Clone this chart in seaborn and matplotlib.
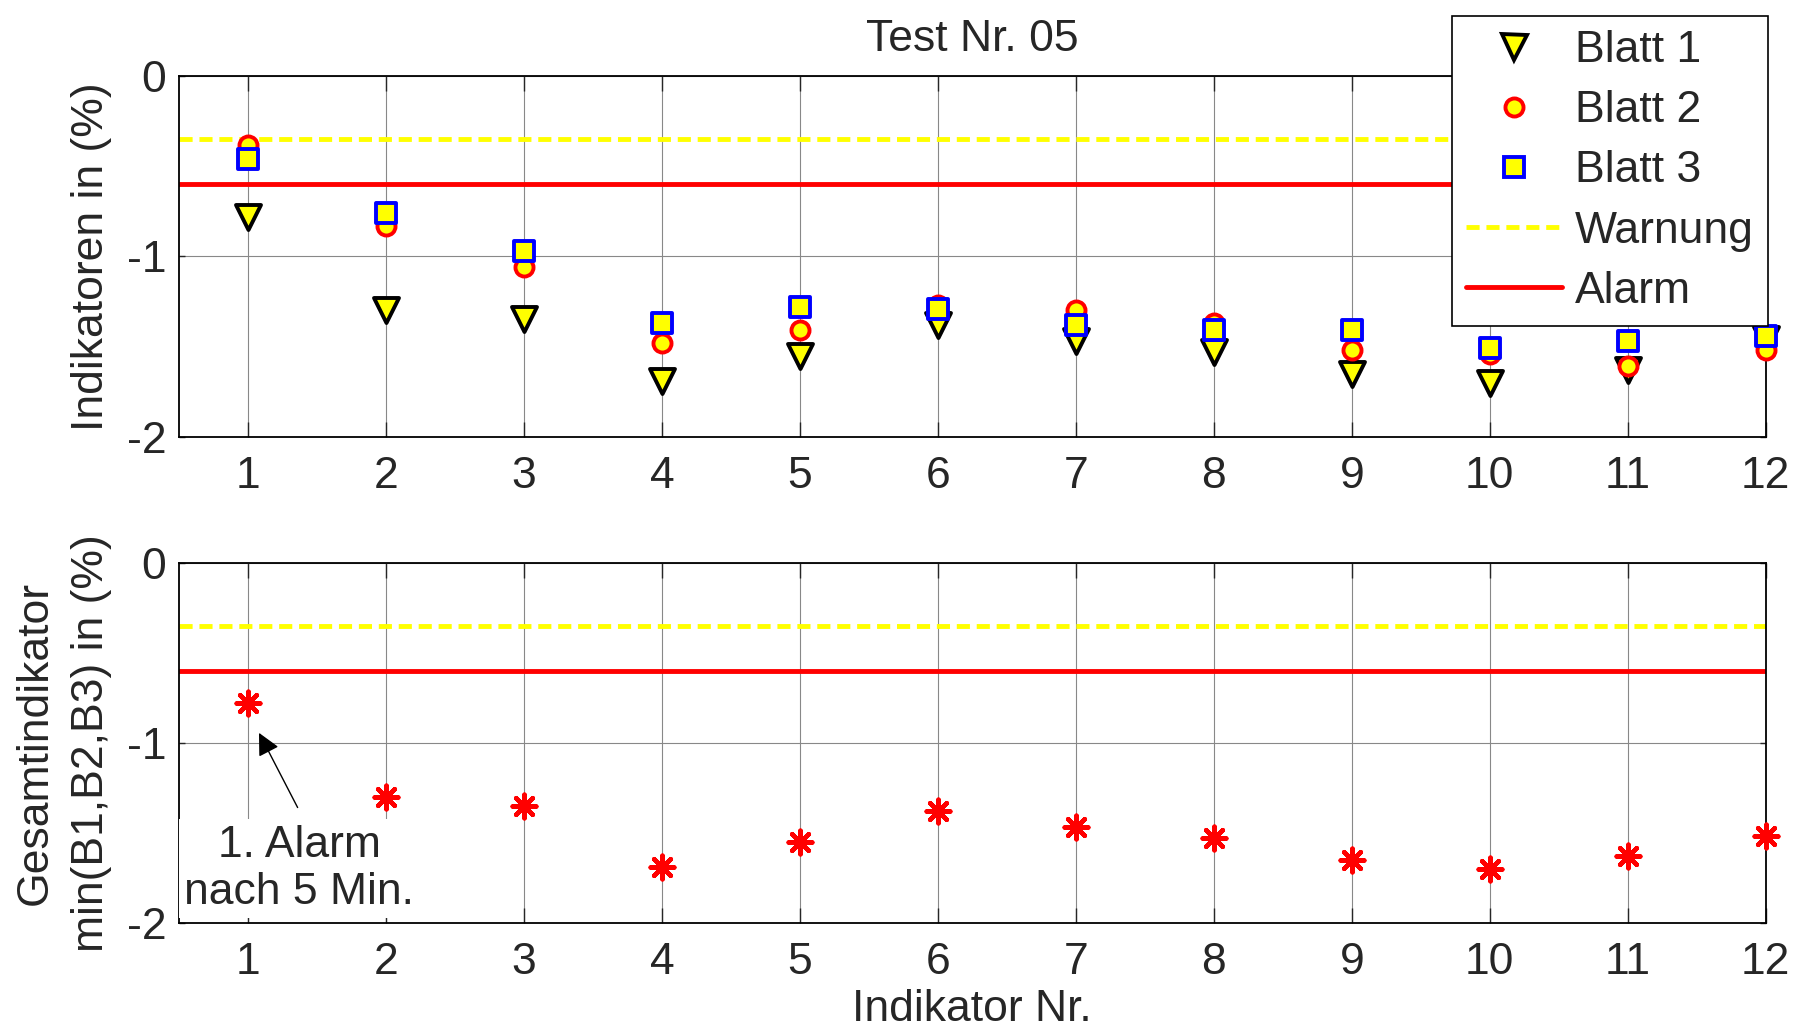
import numpy as np
import matplotlib
matplotlib.use("Agg")
import matplotlib.pyplot as plt
from matplotlib.lines import Line2D
import seaborn as sns

# values
indikator = np.arange(1, 13)
blatt1 = [-0.78, -1.30, -1.35, -1.69, -1.55, -1.38, -1.47, -1.53, -1.65, -1.70, -1.63, -1.46]
blatt2 = [-0.38, -0.83, -1.06, -1.48, -1.41, -1.27, -1.30, -1.37, -1.52, -1.54, -1.61, -1.52]
blatt3 = [-0.46, -0.76, -0.97, -1.37, -1.28, -1.29, -1.38, -1.41, -1.41, -1.51, -1.47, -1.44]
warnung = -0.35
alarm = -0.6
gesamt = np.minimum.reduce([blatt1, blatt2, blatt3])

yticks = [0, -1, -2]

sns.set_style("ticks")
plt.rcParams['font.family'] = ['Liberation Sans', 'DejaVu Sans']
plt.rcParams['axes.unicode_minus'] = False

FS = 32
YEL = '#FFFF00'
RED = '#FF0000'
BLUE = '#0000FF'
DASH = (0, (2.7, 1.4))
MEW = 2.8

fig = plt.figure(figsize=(17.95, 10.28), dpi=100)
ax1 = fig.add_axes([0.0997, 0.5752, 0.884, 0.3508])
ax2 = fig.add_axes([0.0997, 0.1024, 0.884, 0.3502])

series = [
    ('Blatt 1', blatt1, 'v', 18, 'black'),
    ('Blatt 2', blatt2, 'o', 13, RED),
    ('Blatt 3', blatt3, 's', 14, BLUE),
]

for ax in (ax1, ax2):
    ax.axhline(warnung, color=YEL, ls=DASH, lw=3.5, zorder=2)
    ax.axhline(alarm, color=RED, lw=3.5, zorder=2)

for name, vals, m, ms, ec in series:
    sns.scatterplot(x=indikator, y=vals, marker=m, s=ms ** 2, color=YEL,
                    edgecolor=ec, linewidth=MEW, ax=ax1, zorder=3,
                    clip_on=False, legend=False)

sns.scatterplot(x=indikator, y=gesamt, marker=(8, 2, 0), s=17 ** 2,
                color=RED, linewidth=3.2, ax=ax2, zorder=3,
                clip_on=False, legend=False)

for ax in (ax1, ax2):
    ax.set_xlim(0.5, 12)
    ax.set_ylim(-2, 0)
    ax.set_xticks(indikator)
    ax.set_yticks(yticks)
    ax.set_yticklabels([str(v) for v in yticks])
    ax.grid(True, color='#888888', lw=0.8)
    ax.set_axisbelow(True)
    ax.tick_params(axis='x', direction='in', length=11, width=1, top=True,
                   pad=14, labelsize=FS)
    ax.tick_params(axis='y', direction='in', length=4, width=1, right=True,
                   pad=9, labelsize=FS)
    for sp in ax.spines.values():
        sp.set_linewidth(1.3)
        sp.set_color('black')
    ax.set_xlabel('')

ax1.set_title('Test Nr. 05', fontsize=FS, pad=18)
ax1.set_ylabel('Indikatoren in (%)', fontsize=FS)
ax1.yaxis.set_label_coords(-0.042, 0.5)
ax2.set_ylabel('Gesamtindikator\nmin(B1,B2,B3) in (%)', fontsize=FS, linespacing=1.5)
ax2.yaxis.set_label_coords(-0.042, 0.5)
ax2.set_xlabel('Indikator Nr.', fontsize=FS, labelpad=4)

# annotation for the first alarm
ax2.text(1.37, -1.70, '1. Alarm\nnach 5 Min.', ha='center', va='center',
         fontsize=FS, linespacing=1.2, zorder=6, clip_on=False,
         bbox=dict(boxstyle='square,pad=0.12', fc='white', ec='none'))
ax2.annotate('', xy=(1.08, -0.945), xytext=(1.36, -1.36),
             arrowprops=dict(arrowstyle='-|>', color='black', lw=1,
                             mutation_scale=34, shrinkA=0, shrinkB=0),
             zorder=6)

handles = [
    Line2D([], [], ls='', marker='v', ms=18, mfc=YEL, mec='black', mew=MEW),
    Line2D([], [], ls='', marker='o', ms=13, mfc=YEL, mec=RED, mew=MEW),
    Line2D([], [], ls='', marker='s', ms=14, mfc=YEL, mec=BLUE, mew=MEW),
    Line2D([], [], color=YEL, ls=DASH, lw=3.5),
    Line2D([], [], color=RED, lw=3.5),
]
labels = ['Blatt 1', 'Blatt 2', 'Blatt 3', 'Warnung', 'Alarm']
leg = ax1.legend(handles, labels, loc='upper right',
                 bbox_to_anchor=(1768 / 1795, 1 - 16 / 1028),
                 bbox_transform=fig.transFigure, borderaxespad=0,
                 frameon=True, fancybox=False, edgecolor='black', framealpha=1,
                 fontsize=FS, borderpad=0.32, labelspacing=0.43,
                 handlelength=2.15, handletextpad=0.3)
leg.get_frame().set_linewidth(1.2)

plt.savefig('out.png', dpi=100)
